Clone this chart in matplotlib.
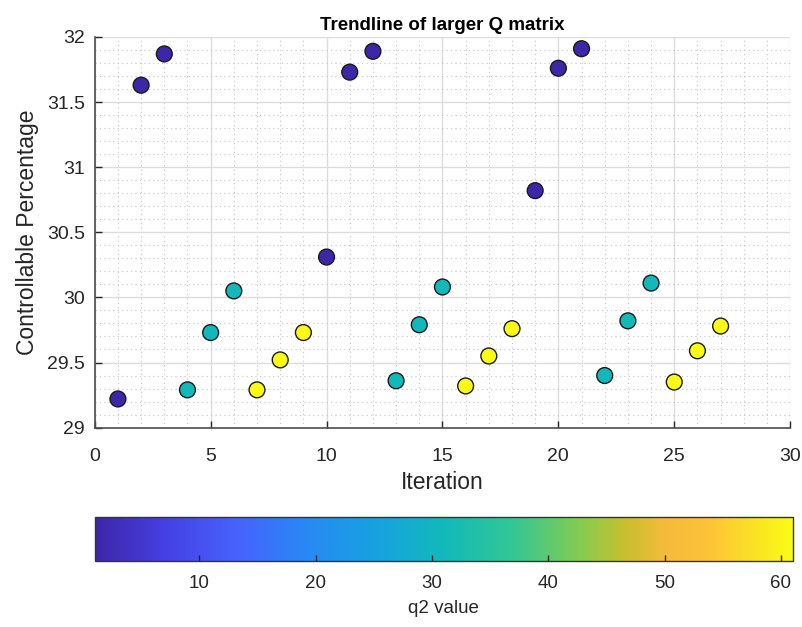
import matplotlib
matplotlib.use("Agg")
import matplotlib.pyplot as plt
from matplotlib.colors import LinearSegmentedColormap
from matplotlib.ticker import MultipleLocator, FuncFormatter

# --- Data ---
iteration = list(range(1, 28))
controllable_pct = [
    29.22, 31.63, 31.87, 29.29, 29.73, 30.05, 29.29, 29.52, 29.73,
    30.31, 31.73, 31.89, 29.36, 29.79, 30.08, 29.32, 29.55, 29.76,
    30.82, 31.76, 31.91, 29.40, 29.82, 30.11, 29.35, 29.59, 29.78,
]
q2_value = [1, 1, 1, 31, 31, 31, 61, 61, 61] * 3
cbar_ticks = [10, 20, 30, 40, 50, 60]

# --- parula-like colormap (MATLAB look) ---
parula_stops = [
    (0.00, (0.2422, 0.1504, 0.6603)),
    (0.10, (0.2700, 0.2500, 0.8900)),
    (0.20, (0.2750, 0.3800, 0.9900)),
    (0.30, (0.1600, 0.5300, 0.9600)),
    (0.40, (0.0900, 0.6300, 0.8800)),
    (0.50, (0.0700, 0.7250, 0.7300)),
    (0.60, (0.2000, 0.7800, 0.5800)),
    (0.70, (0.5300, 0.8000, 0.3000)),
    (0.76, (0.7800, 0.7500, 0.1800)),
    (0.82, (0.9600, 0.7300, 0.2300)),
    (0.88, (0.9900, 0.7600, 0.2200)),
    (1.00, (0.9769, 0.9839, 0.0805)),
]
parula = LinearSegmentedColormap.from_list("parula_like", parula_stops)

plt.rcParams["font.family"] = ["Liberation Sans", "DejaVu Sans"]

fig = plt.figure(figsize=(8.03, 6.27), dpi=100)
fig.patch.set_facecolor("white")
ax = fig.add_axes([0.118, 0.318, 0.866, 0.623])

sc = ax.scatter(iteration, controllable_pct, c=q2_value, cmap=parula, vmin=1, vmax=61,
                s=130, edgecolors="#1a1a1a", linewidths=1.0, zorder=3)

ax.set_xlim(0, 30)
ax.set_ylim(29, 32)
ax.xaxis.set_major_locator(MultipleLocator(5))
ax.xaxis.set_minor_locator(MultipleLocator(1))
ax.yaxis.set_major_locator(MultipleLocator(0.5))
ax.yaxis.set_minor_locator(MultipleLocator(0.1))
ax.yaxis.set_major_formatter(FuncFormatter(lambda v, p: f"{v:g}"))

ax.grid(which="major", color="#dcdcdc", linewidth=1.0, linestyle="-", zorder=0)
ax.grid(which="minor", color="#c4c4c4", linewidth=0.8, linestyle=(0, (1, 3)), zorder=0)
ax.set_axisbelow(True)

for side in ["top", "right"]:
    ax.spines[side].set_visible(False)
for side in ["left", "bottom"]:
    ax.spines[side].set_color("#4d4d4d")
    ax.spines[side].set_linewidth(1.2)

ax.tick_params(which="major", direction="in", length=5, width=1, color="#262626",
               labelsize=14, labelcolor="#262626", pad=7)
ax.tick_params(axis="x", which="major", pad=15)
ax.tick_params(which="minor", length=0)

ax.set_xlabel("Iteration", fontsize=16.5, color="#262626", labelpad=4)
ax.set_ylabel("Controllable Percentage", fontsize=16.5, color="#262626", labelpad=6)
ax.set_title("Trendline of larger Q matrix", fontsize=13.5, fontweight="bold", pad=5)

# --- colorbar at the bottom ---
cax = fig.add_axes([0.118, 0.105, 0.869, 0.071])
cb = fig.colorbar(sc, cax=cax, orientation="horizontal", ticks=cbar_ticks)
cb.outline.set_edgecolor("#333333")
cb.outline.set_linewidth(1.0)
cax.tick_params(direction="in", length=4, width=1, color="#262626",
                labelsize=13.5, labelcolor="#262626", pad=10)
cb.set_label("q2 value", fontsize=13.5, color="#262626", labelpad=6)

fig.savefig("out.png", dpi=100, facecolor=fig.get_facecolor())
plt.close(fig)
